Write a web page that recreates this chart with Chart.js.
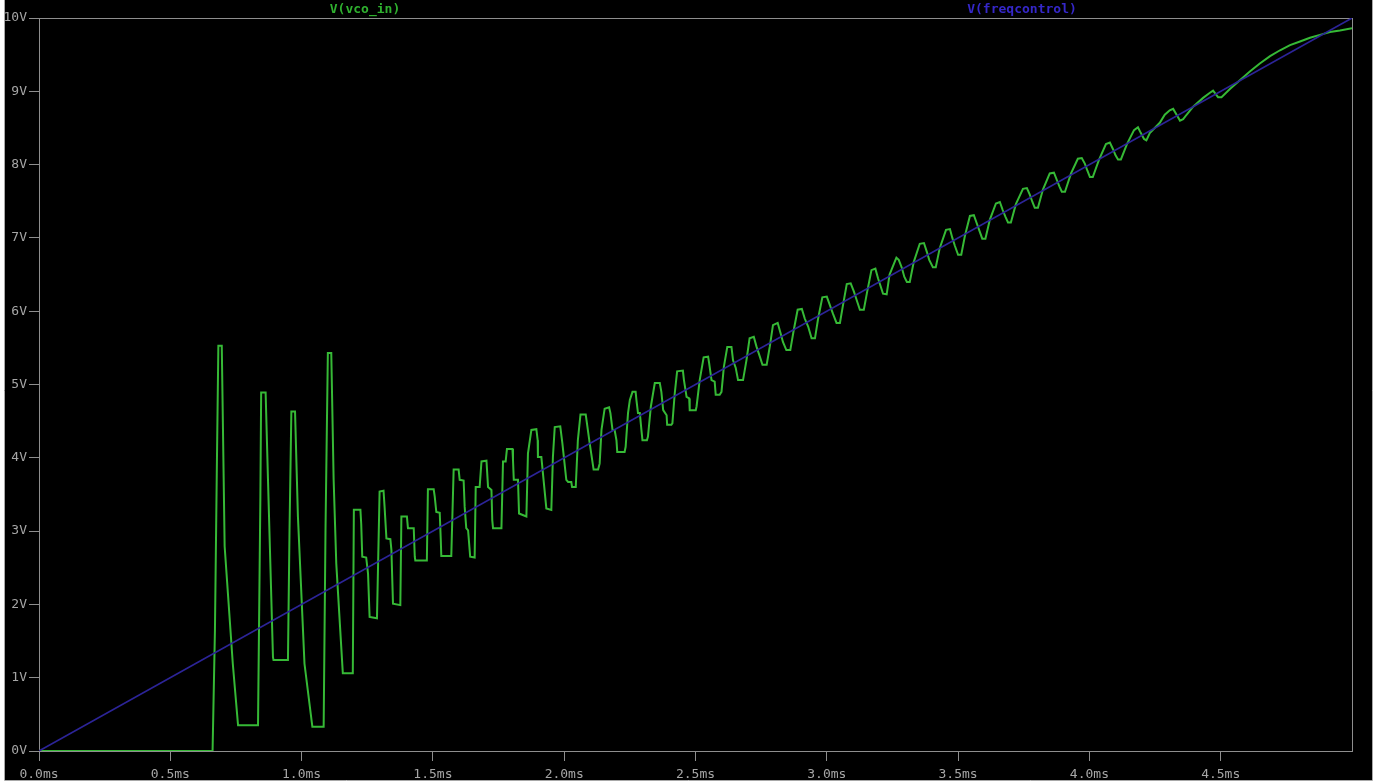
<!DOCTYPE html>
<html>
<head>
<meta charset="utf-8">
<title>V(vco_in) / V(freqcontrol)</title>
<script src="https://cdn.jsdelivr.net/npm/chart.js@4.4.1/dist/chart.umd.min.js"></script>
<style>
  html, body { margin: 0; padding: 0; background: #ffffff; overflow: hidden; }
  #wrap { width: 1379px; height: 782px; }
  canvas { display: block; }
</style>
</head>
<body>
<div id="wrap"><canvas id="plot" width="1379" height="782"></canvas></div>
<script>
// Transient trace of the VCO input (ms, V)
const vcoTime = [
  0,0.661,0.670,0.677,0.683,0.696,0.707,0.738,0.758,0.834,
  0.843,0.846,0.863,0.872,0.891,0.893,0.948,0.954,0.961,0.975,
  0.986,1.011,1.041,1.084,1.091,1.100,1.113,1.122,1.132,1.157,
  1.195,1.199,1.224,1.227,1.231,1.246,1.253,1.259,1.287,1.297,
  1.312,1.316,1.323,1.338,1.342,1.348,1.376,1.380,1.401,1.405,
  1.427,1.431,1.433,1.477,1.481,1.503,1.507,1.513,1.526,1.530,
  1.532,1.570,1.579,1.598,1.602,1.617,1.621,1.627,1.634,1.642,
  1.659,1.663,1.678,1.685,1.704,1.710,1.723,1.726,1.729,1.761,
  1.767,1.777,1.782,1.803,1.805,1.808,1.824,1.828,1.856,1.862,
  1.875,1.894,1.899,1.900,1.913,1.932,1.951,1.957,1.964,1.985,
  1.993,2.008,2.015,2.027,2.030,2.044,2.052,2.062,2.082,2.097,
  2.112,2.129,2.135,2.142,2.154,2.171,2.176,2.184,2.192,2.199,
  2.202,2.230,2.234,2.243,2.250,2.260,2.272,2.275,2.281,2.288,
  2.294,2.298,2.315,2.319,2.330,2.345,2.364,2.370,2.377,2.390,
  2.392,2.408,2.412,2.421,2.430,2.452,2.456,2.466,2.476,2.478,
  2.501,2.504,2.516,2.531,2.548,2.552,2.561,2.573,2.577,2.592,
  2.599,2.608,2.621,2.637,2.643,2.653,2.662,2.681,2.694,2.706,
  2.722,2.732,2.745,2.755,2.771,2.783,2.795,2.813,2.824,2.833,
  2.846,2.861,2.874,2.889,2.905,2.916,2.929,2.942,2.955,2.967,
  2.983,3.000,3.011,3.023,3.037,3.050,3.062,3.076,3.091,3.103,
  3.114,3.126,3.141,3.154,3.170,3.185,3.195,3.205,3.214,3.228,
  3.239,3.265,3.274,3.286,3.295,3.305,3.316,3.331,3.354,3.370,
  3.381,3.390,3.404,3.415,3.430,3.454,3.469,3.478,3.488,3.500,
  3.512,3.526,3.545,3.560,3.571,3.581,3.592,3.604,3.621,3.644,
  3.659,3.670,3.680,3.690,3.701,3.720,3.747,3.762,3.773,3.783,
  3.792,3.804,3.823,3.849,3.865,3.876,3.886,3.895,3.907,3.930,
  3.956,3.971,3.983,3.992,4.002,4.013,4.036,4.063,4.078,4.090,
  4.099,4.109,4.120,4.143,4.170,4.185,4.196,4.208,4.217,4.230,
  4.268,4.287,4.306,4.319,4.332,4.345,4.357,4.370,4.395,4.433,
  4.459,4.471,4.490,4.503,4.535,4.573,4.611,4.649,4.688,4.726,
  4.764,4.802,4.840,4.878,4.916,4.954,5.000
];
const vcoVolts = [
  0,0,1.65,3.79,5.53,5.53,2.79,1.19,0.35,0.35,
  3.47,4.89,4.89,3.70,1.28,1.24,1.24,3.01,4.63,4.63,
  3.20,1.19,0.33,0.33,3.01,5.43,5.43,3.70,2.56,1.06,
  1.06,3.29,3.29,3.10,2.65,2.64,2.42,1.83,1.81,3.54,
  3.55,3.33,2.90,2.89,2.74,2.01,1.99,3.20,3.20,3.04,
  3.04,2.65,2.60,2.60,3.57,3.57,3.47,3.26,3.25,2.88,
  2.66,2.66,3.84,3.84,3.70,3.69,3.33,3.04,3.01,2.65,
  2.64,3.60,3.60,3.95,3.96,3.60,3.56,3.15,3.04,3.04,
  3.95,3.95,4.12,4.12,3.97,3.70,3.70,3.24,3.20,4.06,
  4.38,4.39,4.24,4.01,4.01,3.31,3.29,4.01,4.42,4.43,
  4.20,3.70,3.67,3.67,3.60,3.60,4.24,4.59,4.59,4.20,
  3.84,3.84,3.92,4.38,4.67,4.69,4.61,4.38,4.38,4.24,
  4.08,4.08,4.15,4.61,4.79,4.90,4.90,4.79,4.61,4.61,
  4.38,4.24,4.24,4.29,4.70,5.02,5.02,4.90,4.65,4.58,
  4.45,4.45,4.47,4.88,5.18,5.19,5.06,4.83,4.81,4.65,
  4.65,4.70,5.06,5.37,5.38,5.29,5.06,5.04,4.86,4.86,
  4.90,5.24,5.51,5.51,5.33,5.23,5.06,5.06,5.33,5.63,
  5.65,5.52,5.38,5.27,5.27,5.52,5.81,5.84,5.70,5.58,
  5.47,5.47,5.74,6.02,6.03,5.90,5.79,5.63,5.63,5.90,
  6.19,6.20,6.09,5.97,5.84,5.84,6.09,6.37,6.38,6.27,
  6.15,6.02,6.02,6.27,6.56,6.58,6.45,6.34,6.24,6.23,
  6.50,6.73,6.70,6.59,6.47,6.40,6.40,6.67,6.92,6.93,
  6.81,6.70,6.60,6.60,6.86,7.11,7.12,7.00,6.89,6.77,
  6.77,7.03,7.30,7.31,7.20,7.10,6.99,6.99,7.25,7.47,
  7.49,7.38,7.29,7.21,7.21,7.46,7.67,7.68,7.59,7.49,
  7.41,7.41,7.66,7.88,7.89,7.79,7.70,7.63,7.63,7.88,
  8.08,8.09,8.01,7.92,7.83,7.83,8.06,8.28,8.30,8.21,
  8.13,8.07,8.07,8.28,8.47,8.51,8.43,8.35,8.33,8.43,
  8.57,8.68,8.74,8.76,8.68,8.60,8.62,8.68,8.79,8.91,
  8.98,9.01,8.92,8.92,9.03,9.15,9.27,9.38,9.48,9.56,
  9.63,9.68,9.73,9.77,9.81,9.83,9.86
];

// Frequency control ramp (ms, V)
const freqTime = [0, 5];
const freqVolts = [0, 10];

// Axis ticks
const timeTicks = [0, 0.5, 1.0, 1.5, 2.0, 2.5, 3.0, 3.5, 4.0, 4.5];
const voltTicks = [0, 1, 2, 3, 4, 5, 6, 7, 8, 9, 10];

const traceNames = ['V(vco_in)', 'V(freqcontrol)'];

const GREEN = '#36b936';
const BLUE = '#2c2498';
const GREEN_TEXT = '#2fb02f';
const BLUE_TEXT = '#3527c9';
const AXIS = '#8e8e8e';
const TICKTXT = '#a6a6a6';
const MONO = "'DejaVu Sans Mono', 'Liberation Mono', monospace";

const toPoints = (xs, ys) => xs.map((x, i) => ({ x: x, y: ys[i] }));

// Window backdrop, plot frame and the trace names along the top
const scopeFrame = {
  id: 'scopeFrame',
  beforeDraw(chart) {
    const { ctx, width, height } = chart;
    ctx.save();
    ctx.fillStyle = '#ffffff';
    ctx.fillRect(0, 0, width, height);
    ctx.fillStyle = '#000000';
    ctx.fillRect(4, 0, width - 11, height - 2);
    ctx.strokeStyle = '#a8a8a8';
    ctx.lineWidth = 1;
    ctx.beginPath();
    ctx.moveTo(4.5, 0);
    ctx.lineTo(4.5, height - 1.5);
    ctx.lineTo(width - 6.5, height - 1.5);
    ctx.lineTo(width - 6.5, 0);
    ctx.stroke();
    ctx.restore();
  },
  beforeDatasetsDraw(chart) {
    const { ctx, chartArea: a } = chart;
    ctx.save();
    ctx.strokeStyle = AXIS;
    ctx.lineWidth = 1;
    ctx.strokeRect(Math.round(a.left) + 0.5, Math.round(a.top) + 0.5,
                   Math.round(a.right - a.left), Math.round(a.bottom - a.top));
    ctx.restore();
  },
  afterDraw(chart) {
    const { ctx } = chart;
    const centres = [365, 1022];
    const colours = [GREEN_TEXT, BLUE_TEXT];
    ctx.save();
    ctx.font = 'bold 13px ' + MONO;
    ctx.textAlign = 'center';
    ctx.textBaseline = 'middle';
    chart.data.datasets.forEach((ds) => {
      const idx = traceNames.indexOf(ds.label);
      ctx.fillStyle = colours[idx];
      ctx.fillText(ds.label, centres[idx], 10);
    });
    ctx.restore();
  }
};

Chart.defaults.font.family = MONO;
Chart.defaults.font.size = 13;

new Chart(document.getElementById('plot'), {
  type: 'line',
  data: {
    datasets: [
      {
        label: traceNames[1],
        data: toPoints(freqTime, freqVolts),
        borderColor: BLUE,
        borderWidth: 1.6,
        pointRadius: 0,
        tension: 0,
        order: 0
      },
      {
        label: traceNames[0],
        data: toPoints(vcoTime, vcoVolts),
        borderColor: GREEN,
        borderWidth: 2,
        pointRadius: 0,
        tension: 0,
        order: 1
      }
    ]
  },
  options: {
    responsive: false,
    animation: false,
    devicePixelRatio: 1,
    layout: { padding: { top: 18, right: 27, bottom: 0, left: 0 } },
    plugins: {
      legend: { display: false },
      tooltip: { enabled: false }
    },
    scales: {
      x: {
        type: 'linear',
        min: 0,
        max: 5,
        afterBuildTicks(scale) { scale.ticks = timeTicks.map(v => ({ value: v })); },
        afterFit(scale) { scale.height = 31; },
        grid: { drawOnChartArea: false, drawTicks: true, tickLength: 10, color: AXIS, lineWidth: 1 },
        border: { display: true, color: AXIS, width: 1 },
        ticks: {
          color: TICKTXT,
          padding: 6,
          maxRotation: 0,
          autoSkip: false,
          font: { size: 13, family: MONO },
          callback: (v) => Number(v).toFixed(1) + 'ms'
        }
      },
      y: {
        type: 'linear',
        min: 0,
        max: 10,
        afterBuildTicks(scale) { scale.ticks = voltTicks.map(v => ({ value: v })); },
        afterFit(scale) { scale.width = 39; },
        grid: { drawOnChartArea: false, drawTicks: true, tickLength: 10, color: AXIS, lineWidth: 1 },
        border: { display: true, color: AXIS, width: 1 },
        ticks: {
          color: TICKTXT,
          padding: 2,
          autoSkip: false,
          font: { size: 13, family: MONO },
          callback: (v) => v + 'V'
        }
      }
    }
  },
  plugins: [scopeFrame]
});
</script>
</body>
</html>
